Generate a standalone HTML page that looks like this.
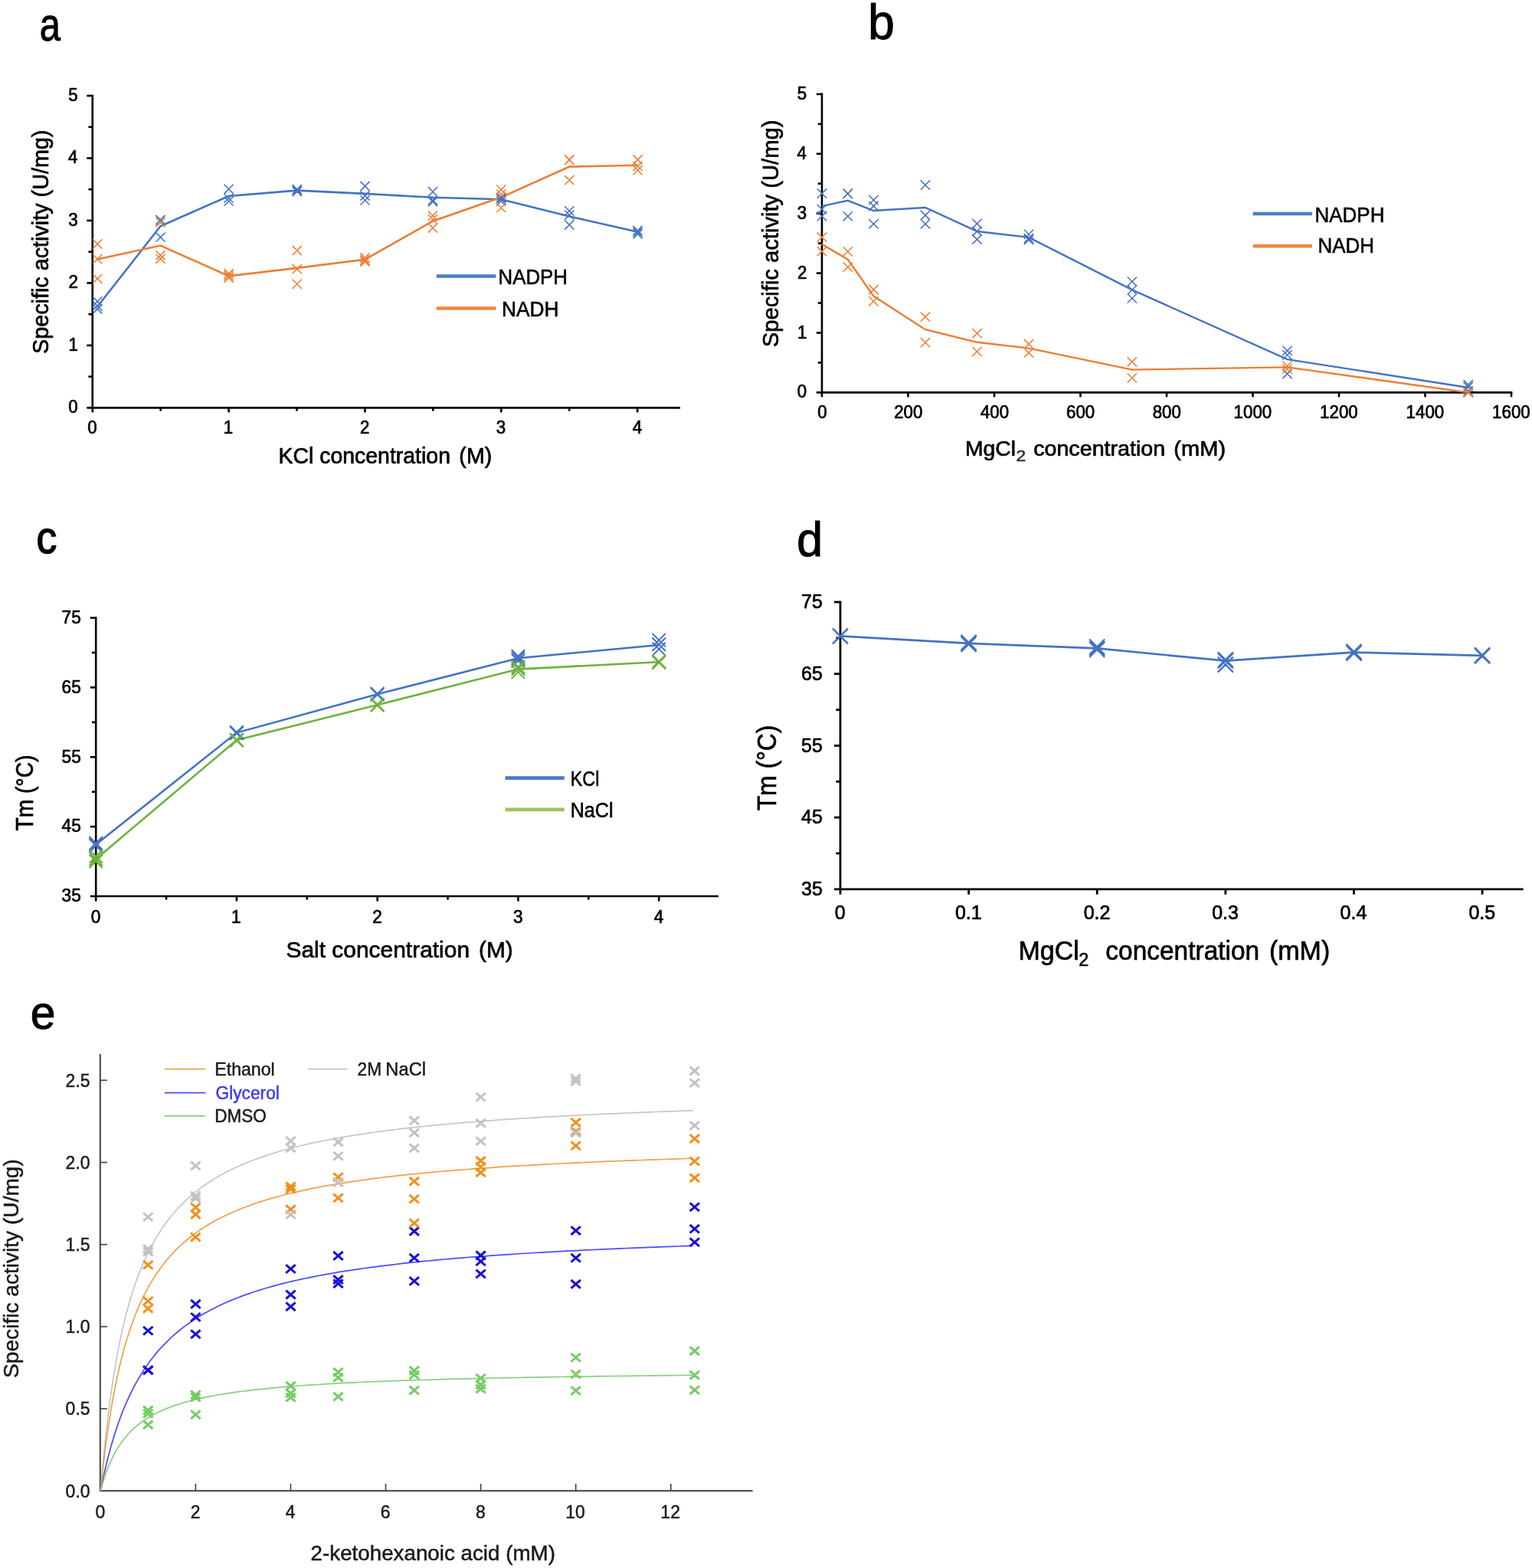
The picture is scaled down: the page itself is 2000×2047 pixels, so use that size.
<!DOCTYPE html>
<html lang="en"><head><meta charset="utf-8"><title>Figure</title>
<style>
html,body{margin:0;padding:0;background:#fff;}
body{width:2000px;height:2047px;overflow:hidden;}
svg{display:block;}
text{font-family:"Liberation Sans",Arial,Helvetica,sans-serif;white-space:pre;}
</style></head><body>
<svg width="2000" height="2047" viewBox="0 0 2000 2047">
<rect width="2000" height="2047" fill="#fff"/>
<g id="labels">
<text transform="translate(51.63 52.58) scale(0.7757 0.9663)" font-size="63" stroke="#000" stroke-width="1.1">a</text>
<text transform="translate(1133.37 50.85) scale(0.9869 1.0243)" font-size="63" stroke="#000" stroke-width="1.1">b</text>
<text transform="translate(47.6 722.41) scale(0.8489 0.944)" font-size="63" stroke="#000" stroke-width="1.6">c</text>
<text transform="translate(1040.37 725.54) scale(0.9659 1.0004)" font-size="63" stroke="#000" stroke-width="1.1">d</text>
<text transform="translate(39.64 1343.19) scale(0.9329 0.9607)" font-size="63" stroke="#000" stroke-width="1.1">e</text>
</g>
<g id="panelA">
<line x1="120.75" y1="123.7" x2="120.75" y2="533.7" stroke="#000" stroke-width="2.6"/>
<line x1="113.35" y1="532.4" x2="888" y2="532.4" stroke="#000" stroke-width="2.6"/>
<text transform="translate(89.18 539.1) scale(1 1.06)" font-size="22.3" stroke="#000" stroke-width="0.7">0</text>
<line x1="115.45" y1="491.66" x2="120.75" y2="491.66" stroke="#000" stroke-width="2.6"/>
<line x1="113.35" y1="450.92" x2="120.75" y2="450.92" stroke="#000" stroke-width="2.6"/>
<text transform="translate(89.4 457.62) scale(1 1.06)" font-size="22.3" stroke="#000" stroke-width="0.7">1</text>
<line x1="115.45" y1="410.18" x2="120.75" y2="410.18" stroke="#000" stroke-width="2.6"/>
<line x1="113.35" y1="369.44" x2="120.75" y2="369.44" stroke="#000" stroke-width="2.6"/>
<text transform="translate(89.4 376.14) scale(1 1.06)" font-size="22.3" stroke="#000" stroke-width="0.7">2</text>
<line x1="115.45" y1="328.7" x2="120.75" y2="328.7" stroke="#000" stroke-width="2.6"/>
<line x1="113.35" y1="287.96" x2="120.75" y2="287.96" stroke="#000" stroke-width="2.6"/>
<text transform="translate(89.18 294.66) scale(1 1.06)" font-size="22.3" stroke="#000" stroke-width="0.7">3</text>
<line x1="115.45" y1="247.22" x2="120.75" y2="247.22" stroke="#000" stroke-width="2.6"/>
<line x1="113.35" y1="206.48" x2="120.75" y2="206.48" stroke="#000" stroke-width="2.6"/>
<text transform="translate(88.96 213.18) scale(1 1.06)" font-size="22.3" stroke="#000" stroke-width="0.7">4</text>
<line x1="115.45" y1="165.74" x2="120.75" y2="165.74" stroke="#000" stroke-width="2.6"/>
<line x1="113.35" y1="125" x2="120.75" y2="125" stroke="#000" stroke-width="2.6"/>
<text transform="translate(89.18 131.7) scale(1 1.06)" font-size="22.3" stroke="#000" stroke-width="0.7">5</text>
<line x1="120.75" y1="532.4" x2="120.75" y2="538.4" stroke="#000" stroke-width="2.6"/>
<text transform="translate(114.32 566) scale(1 1.06)" font-size="22.3" stroke="#000" stroke-width="0.7">0</text>
<line x1="209.68" y1="532.4" x2="209.68" y2="536.6" stroke="#000" stroke-width="2.6"/>
<line x1="298.6" y1="532.4" x2="298.6" y2="538.4" stroke="#000" stroke-width="2.6"/>
<text transform="translate(291.83 566) scale(1 1.06)" font-size="22.3" stroke="#000" stroke-width="0.7">1</text>
<line x1="387.52" y1="532.4" x2="387.52" y2="536.6" stroke="#000" stroke-width="2.6"/>
<line x1="476.45" y1="532.4" x2="476.45" y2="538.4" stroke="#000" stroke-width="2.6"/>
<text transform="translate(470.02 566) scale(1 1.06)" font-size="22.3" stroke="#000" stroke-width="0.7">2</text>
<line x1="565.38" y1="532.4" x2="565.38" y2="536.6" stroke="#000" stroke-width="2.6"/>
<line x1="654.3" y1="532.4" x2="654.3" y2="538.4" stroke="#000" stroke-width="2.6"/>
<text transform="translate(647.87 566) scale(1 1.06)" font-size="22.3" stroke="#000" stroke-width="0.7">3</text>
<line x1="743.23" y1="532.4" x2="743.23" y2="536.6" stroke="#000" stroke-width="2.6"/>
<line x1="832.15" y1="532.4" x2="832.15" y2="538.4" stroke="#000" stroke-width="2.6"/>
<text transform="translate(825.72 566) scale(1 1.06)" font-size="22.3" stroke="#000" stroke-width="0.7">4</text>
<text transform="translate(363.41 604.7) scale(0.9817 1)" font-size="29" stroke="#000" stroke-width="0.7">KCl concentration</text>
<text transform="translate(599.37 604.7) scale(0.9852 1)" font-size="29" stroke="#000" stroke-width="0.7">(M)</text>
<text transform="translate(63.2 461.96) rotate(-90) scale(0.9918 1)" font-size="29" stroke="#000" stroke-width="0.7">Specific activity (U/mg)</text>
<polyline points="127.2,400.3 209.5,295.3 298.6,256 387.8,248.6 476.5,252.9 565,257.8 654.3,260.2 743.3,282.5 832.5,302.7" fill="none" stroke="#4472C4" stroke-width="2.6" stroke-linejoin="miter"/>
<polyline points="127.2,338.6 209.5,320.5 298.6,360.4 387.8,349.9 476.5,338.8 565,288.7 654.3,257.6 743.3,217.6 832.5,215.7" fill="none" stroke="#ED7D31" stroke-width="2.6" stroke-linejoin="miter"/>
<path d="M121.1 387.4L133.3 399.6M121.1 399.6L133.3 387.4M121.1 393.4L133.3 405.6M121.1 405.6L133.3 393.4M121.1 397.4L133.3 409.6M121.1 409.6L133.3 397.4M203.4 281.4L215.6 293.6M203.4 293.6L215.6 281.4M203.4 280.9L215.6 293.1M203.4 293.1L215.6 280.9M203.4 303.6L215.6 315.8M203.4 315.8L215.6 303.6M292.5 240.7L304.7 252.9M292.5 252.9L304.7 240.7M292.5 252.6L304.7 264.8M292.5 264.8L304.7 252.6M292.5 256.5L304.7 268.7M292.5 268.7L304.7 256.5M381.7 241.1L393.9 253.3M381.7 253.3L393.9 241.1M381.7 242.5L393.9 254.7M381.7 254.7L393.9 242.5M381.7 243.9L393.9 256.1M381.7 256.1L393.9 243.9M470.4 236.9L482.6 249.1M470.4 249.1L482.6 236.9M470.4 249.4L482.6 261.6M470.4 261.6L482.6 249.4M470.4 255.3L482.6 267.5M470.4 267.5L482.6 255.3M558.9 244.1L571.1 256.3M558.9 256.3L571.1 244.1M558.9 255.4L571.1 267.6M558.9 267.6L571.1 255.4M558.9 257.2L571.1 269.4M558.9 269.4L571.1 257.2M648.2 251.5L660.4 263.7M648.2 263.7L660.4 251.5M648.2 253.6L660.4 265.8M648.2 265.8L660.4 253.6M648.2 256.4L660.4 268.6M648.2 268.6L660.4 256.4M737.2 269.3L749.4 281.5M737.2 281.5L749.4 269.3M737.2 274.6L749.4 286.8M737.2 286.8L749.4 274.6M737.2 287.4L749.4 299.6M737.2 299.6L749.4 287.4M826.4 294.8L838.6 307M826.4 307L838.6 294.8M826.4 297.1L838.6 309.3M826.4 309.3L838.6 297.1M826.4 299.5L838.6 311.7M826.4 311.7L838.6 299.5" fill="none" stroke="#4472C4" stroke-width="1.5"/>
<path d="M121.1 312.4L133.3 324.6M121.1 324.6L133.3 312.4M121.1 332L133.3 344.2M121.1 344.2L133.3 332M121.1 357.7L133.3 369.9M121.1 369.9L133.3 357.7M203.4 284.2L215.6 296.4M203.4 296.4L215.6 284.2M203.4 327.2L215.6 339.4M203.4 339.4L215.6 327.2M203.4 331.7L215.6 343.9M203.4 343.9L215.6 331.7M292.5 351.1L304.7 363.3M292.5 363.3L304.7 351.1M292.5 353.8L304.7 366M292.5 366L304.7 353.8M292.5 356.4L304.7 368.6M292.5 368.6L304.7 356.4M381.7 320.9L393.9 333.1M381.7 333.1L393.9 320.9M381.7 345.1L393.9 357.3M381.7 357.3L393.9 345.1M381.7 364.8L393.9 377M381.7 377L393.9 364.8M470.4 330.4L482.6 342.6M470.4 342.6L482.6 330.4M470.4 333.3L482.6 345.5M470.4 345.5L482.6 333.3M470.4 335.4L482.6 347.6M470.4 347.6L482.6 335.4M558.9 275.6L571.1 287.8M558.9 287.8L571.1 275.6M558.9 280.3L571.1 292.5M558.9 292.5L571.1 280.3M558.9 291.4L571.1 303.6M558.9 303.6L571.1 291.4M648.2 241.5L660.4 253.7M648.2 253.7L660.4 241.5M648.2 247.5L660.4 259.7M648.2 259.7L660.4 247.5M648.2 265.1L660.4 277.3M648.2 277.3L660.4 265.1M737.2 202.4L749.4 214.6M737.2 214.6L749.4 202.4M737.2 202.8L749.4 215M737.2 215L749.4 202.8M737.2 229.1L749.4 241.3M737.2 241.3L749.4 229.1M826.4 202.4L838.6 214.6M826.4 214.6L838.6 202.4M826.4 210.8L838.6 223M826.4 223L838.6 210.8M826.4 216L838.6 228.2M826.4 228.2L838.6 216" fill="none" stroke="#ED7D31" stroke-width="1.5"/>
<line x1="569.8" y1="360.5" x2="647.4" y2="360.5" stroke="#4D7EC4" stroke-width="4.7"/>
<text transform="translate(650.59 371.3) scale(0.9064 1)" font-size="28.5" stroke="#000" stroke-width="0.6">NADPH</text>
<line x1="569.8" y1="402.5" x2="647.4" y2="402.5" stroke="#EE8640" stroke-width="4.7"/>
<text transform="translate(654.96 412.6) scale(0.9248 1)" font-size="28.5" stroke="#000" stroke-width="0.6">NADH</text>
</g>
<g id="panelB">
<line x1="1073" y1="121.6" x2="1073" y2="513.7" stroke="#000" stroke-width="2.6"/>
<line x1="1065.8" y1="512.4" x2="1974.3" y2="512.4" stroke="#000" stroke-width="2.6"/>
<text transform="translate(1040.78 519.4) scale(1 1.06)" font-size="22.3" stroke="#000" stroke-width="0.7">0</text>
<line x1="1067.8" y1="473.45" x2="1073" y2="473.45" stroke="#000" stroke-width="2.6"/>
<line x1="1065.8" y1="434.5" x2="1073" y2="434.5" stroke="#000" stroke-width="2.6"/>
<text transform="translate(1041 441.5) scale(1 1.06)" font-size="22.3" stroke="#000" stroke-width="0.7">1</text>
<line x1="1067.8" y1="395.55" x2="1073" y2="395.55" stroke="#000" stroke-width="2.6"/>
<line x1="1065.8" y1="356.6" x2="1073" y2="356.6" stroke="#000" stroke-width="2.6"/>
<text transform="translate(1041 363.6) scale(1 1.06)" font-size="22.3" stroke="#000" stroke-width="0.7">2</text>
<line x1="1067.8" y1="317.65" x2="1073" y2="317.65" stroke="#000" stroke-width="2.6"/>
<line x1="1065.8" y1="278.7" x2="1073" y2="278.7" stroke="#000" stroke-width="2.6"/>
<text transform="translate(1040.78 285.7) scale(1 1.06)" font-size="22.3" stroke="#000" stroke-width="0.7">3</text>
<line x1="1067.8" y1="239.75" x2="1073" y2="239.75" stroke="#000" stroke-width="2.6"/>
<line x1="1065.8" y1="200.8" x2="1073" y2="200.8" stroke="#000" stroke-width="2.6"/>
<text transform="translate(1040.56 207.8) scale(1 1.06)" font-size="22.3" stroke="#000" stroke-width="0.7">4</text>
<line x1="1067.8" y1="161.85" x2="1073" y2="161.85" stroke="#000" stroke-width="2.6"/>
<line x1="1065.8" y1="122.9" x2="1073" y2="122.9" stroke="#000" stroke-width="2.6"/>
<text transform="translate(1040.78 129.9) scale(1 1.06)" font-size="22.3" stroke="#000" stroke-width="0.7">5</text>
<line x1="1073" y1="512.4" x2="1073" y2="518.4" stroke="#000" stroke-width="2.6"/>
<text transform="translate(1067.17 546.4) scale(1 1.06)" font-size="22.3" stroke="#000" stroke-width="0.7">0</text>
<line x1="1185.5" y1="512.4" x2="1185.5" y2="518.4" stroke="#000" stroke-width="2.6"/>
<text transform="translate(1167.18 546.4) scale(1 1.06)" font-size="22.3" stroke="#000" stroke-width="0.7">200</text>
<line x1="1298" y1="512.4" x2="1298" y2="518.4" stroke="#000" stroke-width="2.6"/>
<text transform="translate(1279.9 546.4) scale(1 1.06)" font-size="22.3" stroke="#000" stroke-width="0.7">400</text>
<line x1="1410.5" y1="512.4" x2="1410.5" y2="518.4" stroke="#000" stroke-width="2.6"/>
<text transform="translate(1392.07 546.4) scale(1 1.06)" font-size="22.3" stroke="#000" stroke-width="0.7">600</text>
<line x1="1523" y1="512.4" x2="1523" y2="518.4" stroke="#000" stroke-width="2.6"/>
<text transform="translate(1504.68 546.4) scale(1 1.06)" font-size="22.3" stroke="#000" stroke-width="0.7">800</text>
<line x1="1635.5" y1="512.4" x2="1635.5" y2="518.4" stroke="#000" stroke-width="2.6"/>
<text transform="translate(1610.6 546.4) scale(1 1.06)" font-size="22.3" stroke="#000" stroke-width="0.7">1000</text>
<line x1="1748" y1="512.4" x2="1748" y2="518.4" stroke="#000" stroke-width="2.6"/>
<text transform="translate(1723.1 546.4) scale(1 1.06)" font-size="22.3" stroke="#000" stroke-width="0.7">1200</text>
<line x1="1860.5" y1="512.4" x2="1860.5" y2="518.4" stroke="#000" stroke-width="2.6"/>
<text transform="translate(1835.6 546.4) scale(1 1.06)" font-size="22.3" stroke="#000" stroke-width="0.7">1400</text>
<line x1="1973" y1="512.4" x2="1973" y2="518.4" stroke="#000" stroke-width="2.6"/>
<text transform="translate(1948.1 546.4) scale(1 1.06)" font-size="22.3" stroke="#000" stroke-width="0.7">1600</text>
<text transform="translate(1259.92 594.8) scale(1.0116 1)" font-size="28" stroke="#000" stroke-width="0.7">MgCl</text>
<text transform="translate(1326.38 601.8) scale(1.1752 1)" font-size="19.5" fill="#2a2a2a" stroke="#2a2a2a" stroke-width="0.5">2</text>
<text transform="translate(1349.14 594.8) scale(1.0244 1)" font-size="28" stroke="#000" stroke-width="0.7">concentration</text>
<text transform="translate(1532.35 594.8) scale(1.0378 1)" font-size="28" stroke="#000" stroke-width="0.7">(mM)</text>
<text transform="translate(1015.7 453.18) rotate(-90) scale(0.9729 1)" font-size="30" stroke="#000" stroke-width="0.7">Specific activity (U/mg)</text>
<polyline points="1073,269.2 1106.8,261.8 1140.5,275 1208,271 1275.5,302 1343,309.9 1478,378.4 1680.5,469.1 1916.8,506" fill="none" stroke="#4472C4" stroke-width="2.4" stroke-linejoin="miter"/>
<polyline points="1073,318.9 1106.8,338.7 1140.5,386.6 1208,430.2 1275.5,446.8 1343,454.6 1478,482.6 1680.5,479.4 1916.8,512.4" fill="none" stroke="#ED7D31" stroke-width="2.4" stroke-linejoin="miter"/>
<path d="M1066.8 246.4L1079.2 258.8M1066.8 258.8L1079.2 246.4M1066.8 267L1079.2 279.2M1066.8 279.2L1079.2 267M1066.8 276.2L1079.2 288.4M1066.8 288.4L1079.2 276.2M1100.6 246.4L1112.9 258.8M1100.6 258.8L1112.9 246.4M1100.6 246.8L1112.9 259.1M1100.6 259.1L1112.9 246.8M1100.6 276.2L1112.9 288.4M1100.6 288.4L1112.9 276.2M1134.3 255L1146.7 267.3M1134.3 267.3L1146.7 255M1134.3 262.9L1146.7 275.1M1134.3 275.1L1146.7 262.9M1134.3 286.2L1146.7 298.4M1134.3 298.4L1146.7 286.2M1201.8 235.4L1214.2 247.8M1201.8 247.8L1214.2 235.4M1201.8 274.9L1214.2 287.1M1201.8 287.1L1214.2 274.9M1201.8 286.2L1214.2 298.4M1201.8 298.4L1214.2 286.2M1269.3 285.9L1281.7 298.1M1269.3 298.1L1281.7 285.9M1269.3 295.9L1281.7 308.1M1269.3 308.1L1281.7 295.9M1269.3 306.4L1281.7 318.6M1269.3 318.6L1281.7 306.4M1336.8 299.8L1349.2 312M1336.8 312L1349.2 299.8M1336.8 305.1L1349.2 317.3M1336.8 317.3L1349.2 305.1M1336.8 306.9L1349.2 319.1M1336.8 319.1L1349.2 306.9M1471.8 361.5L1484.2 373.8M1471.8 373.8L1484.2 361.5M1471.8 372.2L1484.2 384.5M1471.8 384.5L1484.2 372.2M1471.8 383.2L1484.2 395.5M1471.8 395.5L1484.2 383.2M1674.3 451.7L1686.7 463.9M1674.3 463.9L1686.7 451.7M1674.3 457.2L1686.7 469.5M1674.3 469.5L1686.7 457.2M1674.3 481.9L1686.7 494.1M1674.3 494.1L1686.7 481.9M1910.6 496.1L1922.9 508.3M1910.6 508.3L1922.9 496.1M1910.6 498.9L1922.9 511.1M1910.6 511.1L1922.9 498.9M1910.6 504.4L1922.9 516.6M1910.6 516.6L1922.9 504.4" fill="none" stroke="#4472C4" stroke-width="1.5"/>
<path d="M1066.8 303.6L1079.2 315.8M1066.8 315.8L1079.2 303.6M1066.8 322.1L1079.2 334.3M1066.8 334.3L1079.2 322.1M1100.6 322.2L1112.9 334.5M1100.6 334.5L1112.9 322.2M1100.6 342.5L1112.9 354.8M1100.6 354.8L1112.9 342.5M1134.3 371.9L1146.7 384.1M1134.3 384.1L1146.7 371.9M1134.3 387.2L1146.7 399.5M1134.3 399.5L1146.7 387.2M1201.8 407.6L1214.2 419.8M1201.8 419.8L1214.2 407.6M1201.8 441L1214.2 453.2M1201.8 453.2L1214.2 441M1269.3 429.1L1281.7 441.3M1269.3 441.3L1281.7 429.1M1269.3 452.8L1281.7 465M1269.3 465L1281.7 452.8M1336.8 443.1L1349.2 455.3M1336.8 455.3L1349.2 443.1M1336.8 454.6L1349.2 466.8M1336.8 466.8L1349.2 454.6M1471.8 466.2L1484.2 478.4M1471.8 478.4L1484.2 466.2M1471.8 487.2L1484.2 499.5M1471.8 499.5L1484.2 487.2M1674.3 471.5L1686.7 483.8M1674.3 483.8L1686.7 471.5M1674.3 475.6L1686.7 487.8M1674.3 487.8L1686.7 475.6M1910.6 505.7L1922.9 518M1910.6 518L1922.9 505.7M1910.6 506.5L1922.9 518.8M1910.6 518.8L1922.9 506.5" fill="none" stroke="#ED7D31" stroke-width="1.5"/>
<line x1="1635.7" y1="279" x2="1713" y2="279" stroke="#4D7EC4" stroke-width="4.6"/>
<text transform="translate(1716.48 289.5) scale(0.9181 1)" font-size="28.3" stroke="#000" stroke-width="0.6">NADPH</text>
<line x1="1635.7" y1="321.2" x2="1713" y2="321.2" stroke="#EE8640" stroke-width="4.6"/>
<text transform="translate(1720.38 330.4) scale(0.9182 1)" font-size="28.3" stroke="#000" stroke-width="0.6">NADH</text>
</g>
<g id="panelC">
<line x1="125.2" y1="805.3" x2="125.2" y2="1171.3" stroke="#000" stroke-width="2.6"/>
<line x1="117.8" y1="1170" x2="938" y2="1170" stroke="#000" stroke-width="2.6"/>
<text transform="translate(80.59 1177.2) scale(1 1.06)" font-size="22.6" stroke="#000" stroke-width="0.7">35</text>
<line x1="119.9" y1="1124.58" x2="125.2" y2="1124.58" stroke="#000" stroke-width="2.6"/>
<line x1="117.8" y1="1079.15" x2="125.2" y2="1079.15" stroke="#000" stroke-width="2.6"/>
<text transform="translate(80.59 1086.35) scale(1 1.06)" font-size="22.6" stroke="#000" stroke-width="0.7">45</text>
<line x1="119.9" y1="1033.72" x2="125.2" y2="1033.72" stroke="#000" stroke-width="2.6"/>
<line x1="117.8" y1="988.3" x2="125.2" y2="988.3" stroke="#000" stroke-width="2.6"/>
<text transform="translate(80.59 995.5) scale(1 1.06)" font-size="22.6" stroke="#000" stroke-width="0.7">55</text>
<line x1="119.9" y1="942.88" x2="125.2" y2="942.88" stroke="#000" stroke-width="2.6"/>
<line x1="117.8" y1="897.45" x2="125.2" y2="897.45" stroke="#000" stroke-width="2.6"/>
<text transform="translate(80.59 904.65) scale(1 1.06)" font-size="22.6" stroke="#000" stroke-width="0.7">65</text>
<line x1="119.9" y1="852.02" x2="125.2" y2="852.02" stroke="#000" stroke-width="2.6"/>
<line x1="117.8" y1="806.6" x2="125.2" y2="806.6" stroke="#000" stroke-width="2.6"/>
<text transform="translate(80.59 813.8) scale(1 1.06)" font-size="22.6" stroke="#000" stroke-width="0.7">75</text>
<line x1="125.2" y1="1170" x2="125.2" y2="1176.6" stroke="#000" stroke-width="2.6"/>
<text transform="translate(118.69 1204.7) scale(1 1.04)" font-size="22.6" stroke="#000" stroke-width="0.7">0</text>
<line x1="217.07" y1="1170" x2="217.07" y2="1174.6" stroke="#000" stroke-width="2.6"/>
<line x1="308.95" y1="1170" x2="308.95" y2="1176.6" stroke="#000" stroke-width="2.6"/>
<text transform="translate(302.1 1204.7) scale(1 1.04)" font-size="22.6" stroke="#000" stroke-width="0.7">1</text>
<line x1="400.82" y1="1170" x2="400.82" y2="1174.6" stroke="#000" stroke-width="2.6"/>
<line x1="492.7" y1="1170" x2="492.7" y2="1176.6" stroke="#000" stroke-width="2.6"/>
<text transform="translate(486.19 1204.7) scale(1 1.04)" font-size="22.6" stroke="#000" stroke-width="0.7">2</text>
<line x1="584.58" y1="1170" x2="584.58" y2="1174.6" stroke="#000" stroke-width="2.6"/>
<line x1="676.45" y1="1170" x2="676.45" y2="1176.6" stroke="#000" stroke-width="2.6"/>
<text transform="translate(669.94 1204.7) scale(1 1.04)" font-size="22.6" stroke="#000" stroke-width="0.7">3</text>
<line x1="768.33" y1="1170" x2="768.33" y2="1174.6" stroke="#000" stroke-width="2.6"/>
<line x1="860.2" y1="1170" x2="860.2" y2="1176.6" stroke="#000" stroke-width="2.6"/>
<text transform="translate(853.69 1204.7) scale(1 1.04)" font-size="22.6" stroke="#000" stroke-width="0.7">4</text>
<text transform="translate(373.5 1250.3) scale(0.9979 1)" font-size="30" stroke="#000" stroke-width="0.7">Salt concentration</text>
<text transform="translate(625.01 1250.3) scale(0.9952 1)" font-size="30" stroke="#000" stroke-width="0.7">(M)</text>
<text transform="translate(43.3 1084.58) rotate(-90) scale(0.9098 1)" font-size="31" stroke="#000" stroke-width="0.7">Tm (°C)</text>
<polyline points="125.2,1102.4 308.9,956.6 492.7,906.2 676.5,859.2 860.2,842" fill="none" stroke="#4472C4" stroke-width="2.6" stroke-linejoin="miter"/>
<polyline points="125.2,1121.6 308.9,966.2 492.7,920.3 676.5,873.6 860.2,864.2" fill="none" stroke="#6EB23E" stroke-width="2.6" stroke-linejoin="miter"/>
<path d="M116.5 1092L133.9 1109.5M116.5 1109.5L133.9 1092M116.5 1093.7L133.9 1111.2M116.5 1111.2L133.9 1093.7M116.5 1095.2L133.9 1112.8M116.5 1112.8L133.9 1095.2M300.2 947.2L317.7 964.8M300.2 964.8L317.7 947.2M300.2 947.9L317.7 965.4M300.2 965.4L317.7 947.9M300.2 948.5L317.7 966M300.2 966L317.7 948.5M483.9 896.9L501.4 914.4M483.9 914.4L501.4 896.9M483.9 897.5L501.4 915M483.9 915L501.4 897.5M483.9 898L501.4 915.5M483.9 915.5L501.4 898M667.7 847.9L685.2 865.4M667.7 865.4L685.2 847.9M667.7 850.8L685.2 868.2M667.7 868.2L685.2 850.8M667.7 853.9L685.2 871.4M667.7 871.4L685.2 853.9M851.5 826.9L869 844.4M851.5 844.4L869 826.9M851.5 832.5L869 850M851.5 850L869 832.5M851.5 838.6L869 856.1M851.5 856.1L869 838.6" fill="none" stroke="#4472C4" stroke-width="2.0"/>
<path d="M116.5 1109.2L133.9 1126.8M116.5 1126.8L133.9 1109.2M116.5 1112.8L133.9 1130.3M116.5 1130.3L133.9 1112.8M116.5 1115.8L133.9 1133.2M116.5 1133.2L133.9 1115.8M300.2 956.9L317.7 974.4M300.2 974.4L317.7 956.9M300.2 957.5L317.7 975M300.2 975L317.7 957.5M300.2 958L317.7 975.5M300.2 975.5L317.7 958M483.9 911L501.4 928.5M483.9 928.5L501.4 911M483.9 911.5L501.4 929M483.9 929L501.4 911.5M483.9 912.1L501.4 929.6M483.9 929.6L501.4 912.1M667.7 862L685.2 879.5M667.7 879.5L685.2 862M667.7 864.6L685.2 882.1M667.7 882.1L685.2 864.6M667.7 868.6L685.2 886.1M667.7 886.1L685.2 868.6M851.5 854.6L869 872.1M851.5 872.1L869 854.6M851.5 855.5L869 873M851.5 873L869 855.5M851.5 856.2L869 873.8M851.5 873.8L869 856.2" fill="none" stroke="#6EB23E" stroke-width="2.0"/>
<line x1="659.6" y1="1015.7" x2="736.8" y2="1015.7" stroke="#4D7EC4" stroke-width="4.7"/>
<text transform="translate(744.77 1026.2) scale(0.8195 1)" font-size="28.5" stroke="#000" stroke-width="0.6">KCl</text>
<line x1="659.6" y1="1056.9" x2="736.8" y2="1056.9" stroke="#9BC45A" stroke-width="4.7"/>
<text transform="translate(744.64 1067.4) scale(0.8822 1)" font-size="28.5" stroke="#000" stroke-width="0.6">NaCl</text>
</g>
<g id="panelD">
<line x1="1097" y1="784.6" x2="1097" y2="1162.3" stroke="#000" stroke-width="2.8"/>
<line x1="1089" y1="1160.9" x2="1988.7" y2="1160.9" stroke="#000" stroke-width="2.8"/>
<text transform="translate(1046 1169.2) scale(1 1.05)" font-size="25" stroke="#000" stroke-width="0.7">35</text>
<line x1="1091.4" y1="1114.04" x2="1097" y2="1114.04" stroke="#000" stroke-width="2.8"/>
<line x1="1089" y1="1067.18" x2="1097" y2="1067.18" stroke="#000" stroke-width="2.8"/>
<text transform="translate(1046 1075.48) scale(1 1.05)" font-size="25" stroke="#000" stroke-width="0.7">45</text>
<line x1="1091.4" y1="1020.31" x2="1097" y2="1020.31" stroke="#000" stroke-width="2.8"/>
<line x1="1089" y1="973.45" x2="1097" y2="973.45" stroke="#000" stroke-width="2.8"/>
<text transform="translate(1046 981.75) scale(1 1.05)" font-size="25" stroke="#000" stroke-width="0.7">55</text>
<line x1="1091.4" y1="926.59" x2="1097" y2="926.59" stroke="#000" stroke-width="2.8"/>
<line x1="1089" y1="879.73" x2="1097" y2="879.73" stroke="#000" stroke-width="2.8"/>
<text transform="translate(1046 888.02) scale(1 1.05)" font-size="25" stroke="#000" stroke-width="0.7">65</text>
<line x1="1091.4" y1="832.86" x2="1097" y2="832.86" stroke="#000" stroke-width="2.8"/>
<line x1="1089" y1="786" x2="1097" y2="786" stroke="#000" stroke-width="2.8"/>
<text transform="translate(1046 794.3) scale(1 1.05)" font-size="25" stroke="#000" stroke-width="0.7">75</text>
<line x1="1097" y1="1160.9" x2="1097" y2="1167.7" stroke="#000" stroke-width="2.8"/>
<text transform="translate(1089.7 1199.8) scale(1 1.05)" font-size="25" stroke="#000" stroke-width="0.7">0</text>
<line x1="1264.62" y1="1160.9" x2="1264.62" y2="1167.7" stroke="#000" stroke-width="2.8"/>
<text transform="translate(1246.94 1199.8) scale(1 1.05)" font-size="25" stroke="#000" stroke-width="0.7">0.1</text>
<line x1="1432.24" y1="1160.9" x2="1432.24" y2="1167.7" stroke="#000" stroke-width="2.8"/>
<text transform="translate(1414.69 1199.8) scale(1 1.05)" font-size="25" stroke="#000" stroke-width="0.7">0.2</text>
<line x1="1599.86" y1="1160.9" x2="1599.86" y2="1167.7" stroke="#000" stroke-width="2.8"/>
<text transform="translate(1582.19 1199.8) scale(1 1.05)" font-size="25" stroke="#000" stroke-width="0.7">0.3</text>
<line x1="1767.48" y1="1160.9" x2="1767.48" y2="1167.7" stroke="#000" stroke-width="2.8"/>
<text transform="translate(1749.56 1199.8) scale(1 1.05)" font-size="25" stroke="#000" stroke-width="0.7">0.4</text>
<line x1="1935.1" y1="1160.9" x2="1935.1" y2="1167.7" stroke="#000" stroke-width="2.8"/>
<text transform="translate(1917.42 1199.8) scale(1 1.05)" font-size="25" stroke="#000" stroke-width="0.7">0.5</text>
<text transform="translate(1329.42 1253.3) scale(0.9722 1)" font-size="35" stroke="#000" stroke-width="0.7">MgCl</text>
<text transform="translate(1408.26 1261.3) scale(1.0236 1)" font-size="23" stroke="#000" stroke-width="0.6">2</text>
<text transform="translate(1443.3 1253.3) scale(0.9561 1)" font-size="35" stroke="#000" stroke-width="0.7">concentration</text>
<text transform="translate(1656.9 1253.3) scale(0.9725 1)" font-size="35" stroke="#000" stroke-width="0.7">(mM)</text>
<text transform="translate(1013 1058.32) rotate(-90) scale(0.8965 1)" font-size="35.5" stroke="#000" stroke-width="0.7">Tm (°C)</text>
<polyline points="1097,830.4 1264.6,839.9 1432.2,846.4 1599.9,862.7 1767.5,851.7 1935.1,855.8" fill="none" stroke="#4472C4" stroke-width="2.7" stroke-linejoin="miter"/>
<path d="M1087 820.2L1107 840.2M1087 840.2L1107 820.2M1087 820.4L1107 840.4M1087 840.4L1107 820.4M1087 820.6L1107 840.6M1087 840.6L1107 820.6M1254.6 828.8L1274.6 848.8M1254.6 848.8L1274.6 828.8M1254.6 829.9L1274.6 849.9M1254.6 849.9L1274.6 829.9M1254.6 831L1274.6 851M1254.6 851L1274.6 831M1422.2 834.5L1442.2 854.5M1422.2 854.5L1442.2 834.5M1422.2 836.4L1442.2 856.4M1422.2 856.4L1442.2 836.4M1422.2 838L1442.2 858M1422.2 858L1442.2 838M1589.9 851.3L1609.9 871.3M1589.9 871.3L1609.9 851.3M1589.9 852.7L1609.9 872.7M1589.9 872.7L1609.9 852.7M1589.9 857.6L1609.9 877.6M1589.9 877.6L1609.9 857.6M1757.5 840.8L1777.5 860.8M1757.5 860.8L1777.5 840.8M1757.5 841.7L1777.5 861.7M1757.5 861.7L1777.5 841.7M1757.5 842.6L1777.5 862.6M1757.5 862.6L1777.5 842.6M1925.1 845.2L1945.1 865.2M1925.1 865.2L1945.1 845.2M1925.1 845.8L1945.1 865.8M1925.1 865.8L1945.1 845.8M1925.1 846.4L1945.1 866.4M1925.1 866.4L1945.1 846.4" fill="none" stroke="#4472C4" stroke-width="2.2"/>
</g>
<g id="panelE">
<line x1="130.8" y1="1376.1" x2="130.8" y2="1947.3" stroke="#404040" stroke-width="2.0"/>
<line x1="129.8" y1="1946.3" x2="982.7" y2="1946.3" stroke="#404040" stroke-width="2.0"/>
<text transform="translate(85.62 1954.6) scale(1 1.05)" font-size="23" fill="#1a1a1a" stroke="#1a1a1a" stroke-width="0.45">0.0</text>
<line x1="130.8" y1="1839.1" x2="139.9" y2="1839.1" stroke="#404040" stroke-width="1.6"/>
<text transform="translate(85.62 1847.4) scale(1 1.05)" font-size="23" fill="#1a1a1a" stroke="#1a1a1a" stroke-width="0.45">0.5</text>
<line x1="130.8" y1="1731.9" x2="139.9" y2="1731.9" stroke="#404040" stroke-width="1.6"/>
<text transform="translate(85.62 1740.2) scale(1 1.05)" font-size="23" fill="#1a1a1a" stroke="#1a1a1a" stroke-width="0.45">1.0</text>
<line x1="130.8" y1="1624.7" x2="139.9" y2="1624.7" stroke="#404040" stroke-width="1.6"/>
<text transform="translate(85.62 1633) scale(1 1.05)" font-size="23" fill="#1a1a1a" stroke="#1a1a1a" stroke-width="0.45">1.5</text>
<line x1="130.8" y1="1517.5" x2="139.9" y2="1517.5" stroke="#404040" stroke-width="1.6"/>
<text transform="translate(85.62 1525.8) scale(1 1.05)" font-size="23" fill="#1a1a1a" stroke="#1a1a1a" stroke-width="0.45">2.0</text>
<line x1="130.8" y1="1410.3" x2="139.9" y2="1410.3" stroke="#404040" stroke-width="1.6"/>
<text transform="translate(85.62 1418.6) scale(1 1.05)" font-size="23" fill="#1a1a1a" stroke="#1a1a1a" stroke-width="0.45">2.5</text>
<text transform="translate(124.56 1982.4) scale(1 1.05)" font-size="23" fill="#1a1a1a" stroke="#1a1a1a" stroke-width="0.45">0</text>
<line x1="255.38" y1="1946.3" x2="255.38" y2="1937" stroke="#404040" stroke-width="1.6"/>
<text transform="translate(248.64 1982.4) scale(1 1.05)" font-size="23" fill="#1a1a1a" stroke="#1a1a1a" stroke-width="0.45">2</text>
<line x1="379.46" y1="1946.3" x2="379.46" y2="1937" stroke="#404040" stroke-width="1.6"/>
<text transform="translate(372.84 1982.4) scale(1 1.05)" font-size="23" fill="#1a1a1a" stroke="#1a1a1a" stroke-width="0.45">4</text>
<line x1="503.54" y1="1946.3" x2="503.54" y2="1937" stroke="#404040" stroke-width="1.6"/>
<text transform="translate(496.8 1982.4) scale(1 1.05)" font-size="23" fill="#1a1a1a" stroke="#1a1a1a" stroke-width="0.45">6</text>
<line x1="627.62" y1="1946.3" x2="627.62" y2="1937" stroke="#404040" stroke-width="1.6"/>
<text transform="translate(621 1982.4) scale(1 1.05)" font-size="23" fill="#1a1a1a" stroke="#1a1a1a" stroke-width="0.45">8</text>
<line x1="751.7" y1="1946.3" x2="751.7" y2="1937" stroke="#404040" stroke-width="1.6"/>
<text transform="translate(738.18 1982.4) scale(1 1.05)" font-size="23" fill="#1a1a1a" stroke="#1a1a1a" stroke-width="0.45">10</text>
<line x1="875.78" y1="1946.3" x2="875.78" y2="1937" stroke="#404040" stroke-width="1.6"/>
<text transform="translate(862.37 1982.4) scale(1 1.05)" font-size="23" fill="#1a1a1a" stroke="#1a1a1a" stroke-width="0.45">12</text>
<text transform="translate(405.59 2036.9) scale(1.0096 1)" font-size="27.5" fill="#1a1a1a" stroke="#1a1a1a" stroke-width="0.5">2-ketohexanoic acid (mM)</text>
<text transform="translate(24.3 1798.92) rotate(-90) scale(1.0223 1)" font-size="27.5" fill="#1a1a1a" stroke="#1a1a1a" stroke-width="0.5">Specific activity (U/mg)</text>
<polyline points="131.3,1946.3 131.3,1945.9 131.4,1944.8 131.6,1943 131.8,1940.4 132.1,1937.2 132.4,1933.2 132.8,1928.7 133.2,1923.5 133.7,1917.8 134.3,1911.5 135,1904.8 135.6,1897.7 136.4,1890.1 137.2,1882.2 138.1,1874.1 139,1865.7 140,1857 141.1,1848.2 142.2,1839.3 143.4,1830.3 144.6,1821.3 145.9,1812.2 147.3,1803.2 148.7,1794.1 150.2,1785.2 151.7,1776.3 153.3,1767.5 155,1758.9 156.7,1750.3 158.5,1741.9 160.3,1733.7 162.2,1725.6 164.2,1717.8 166.2,1710 168.3,1702.5 170.4,1695.1 172.6,1688 174.9,1681 177.2,1674.2 179.6,1667.6 182.1,1661.2 184.6,1654.9 187.1,1648.8 189.8,1643 192.4,1637.2 195.2,1631.7 198,1626.3 200.9,1621.1 203.8,1616 206.8,1611.1 209.8,1606.4 213,1601.8 216.1,1597.3 219.4,1593 222.6,1588.8 226,1584.7 229.4,1580.8 232.9,1577 236.4,1573.3 240,1569.7 243.7,1566.2 247.4,1562.9 251.1,1559.6 255,1556.4 258.9,1553.4 262.8,1550.4 266.8,1547.5 270.9,1544.7 275.1,1542 279.3,1539.4 283.5,1536.8 287.8,1534.3 292.2,1531.9 296.7,1529.6 301.2,1527.3 305.7,1525.1 310.3,1523 315,1520.9 319.8,1518.9 324.6,1516.9 329.4,1515 334.3,1513.2 339.3,1511.4 344.4,1509.6 349.5,1507.9 354.6,1506.3 359.9,1504.6 365.1,1503.1 370.5,1501.5 375.9,1500.1 381.4,1498.6 386.9,1497.2 392.5,1495.8 398.1,1494.5 403.8,1493.2 409.6,1491.9 415.4,1490.7 421.3,1489.5 427.3,1488.3 433.3,1487.1 439.3,1486 445.5,1484.9 451.6,1483.9 457.9,1482.8 464.2,1481.8 470.6,1480.8 477,1479.9 483.5,1478.9 490.1,1478 496.7,1477.1 503.3,1476.2 510.1,1475.4 516.9,1474.5 523.7,1473.7 530.6,1472.9 537.6,1472.1 544.7,1471.4 551.7,1470.6 558.9,1469.9 566.1,1469.2 573.4,1468.5 580.7,1467.8 588.1,1467.1 595.6,1466.5 603.1,1465.8 610.7,1465.2 618.3,1464.6 626,1464 633.8,1463.4 641.6,1462.8 649.5,1462.2 657.4,1461.7 665.4,1461.1 673.5,1460.6 681.6,1460.1 689.8,1459.6 698,1459.1 706.4,1458.6 714.7,1458.1 723.1,1457.6 731.6,1457.2 740.2,1456.7 748.8,1456.3 757.4,1455.8 766.2,1455.4 775,1455 783.8,1454.6 792.7,1454.2 801.7,1453.8 810.7,1453.4 819.8,1453 828.9,1452.6 838.2,1452.2 847.4,1451.9 856.8,1451.5 866.2,1451.2 875.6,1450.8 885.1,1450.5 894.7,1450.2 904.3,1449.8" fill="none" stroke="#C6C6C6" stroke-width="1.7" stroke-linejoin="round"/>
<polyline points="131.3,1946.3 131.3,1946 131.4,1945.1 131.6,1943.6 131.8,1941.5 132.1,1938.8 132.4,1935.6 132.8,1931.8 133.2,1927.5 133.7,1922.8 134.3,1917.6 135,1912.1 135.6,1906.1 136.4,1899.9 137.2,1893.3 138.1,1886.5 139,1879.4 140,1872.2 141.1,1864.8 142.2,1857.3 143.4,1849.7 144.6,1842.1 145.9,1834.4 147.3,1826.7 148.7,1819 150.2,1811.4 151.7,1803.8 153.3,1796.3 155,1788.8 156.7,1781.5 158.5,1774.2 160.3,1767.1 162.2,1760.1 164.2,1753.3 166.2,1746.6 168.3,1740 170.4,1733.6 172.6,1727.3 174.9,1721.2 177.2,1715.2 179.6,1709.4 182.1,1703.7 184.6,1698.2 187.1,1692.9 189.8,1687.6 192.4,1682.6 195.2,1677.7 198,1672.9 200.9,1668.2 203.8,1663.7 206.8,1659.3 209.8,1655.1 213,1651 216.1,1647 219.4,1643.1 222.6,1639.3 226,1635.7 229.4,1632.1 232.9,1628.7 236.4,1625.4 240,1622.1 243.7,1619 247.4,1616 251.1,1613 255,1610.1 258.9,1607.4 262.8,1604.7 266.8,1602 270.9,1599.5 275.1,1597 279.3,1594.6 283.5,1592.3 287.8,1590.1 292.2,1587.9 296.7,1585.7 301.2,1583.7 305.7,1581.7 310.3,1579.7 315,1577.8 319.8,1576 324.6,1574.2 329.4,1572.4 334.3,1570.7 339.3,1569.1 344.4,1567.5 349.5,1565.9 354.6,1564.4 359.9,1562.9 365.1,1561.5 370.5,1560 375.9,1558.7 381.4,1557.4 386.9,1556.1 392.5,1554.8 398.1,1553.6 403.8,1552.4 409.6,1551.2 415.4,1550 421.3,1548.9 427.3,1547.9 433.3,1546.8 439.3,1545.8 445.5,1544.8 451.6,1543.8 457.9,1542.8 464.2,1541.9 470.6,1541 477,1540.1 483.5,1539.2 490.1,1538.4 496.7,1537.5 503.3,1536.7 510.1,1535.9 516.9,1535.1 523.7,1534.4 530.6,1533.6 537.6,1532.9 544.7,1532.2 551.7,1531.5 558.9,1530.8 566.1,1530.2 573.4,1529.5 580.7,1528.9 588.1,1528.3 595.6,1527.7 603.1,1527.1 610.7,1526.5 618.3,1525.9 626,1525.4 633.8,1524.8 641.6,1524.3 649.5,1523.7 657.4,1523.2 665.4,1522.7 673.5,1522.2 681.6,1521.7 689.8,1521.3 698,1520.8 706.4,1520.4 714.7,1519.9 723.1,1519.5 731.6,1519 740.2,1518.6 748.8,1518.2 757.4,1517.8 766.2,1517.4 775,1517 783.8,1516.6 792.7,1516.2 801.7,1515.9 810.7,1515.5 819.8,1515.2 828.9,1514.8 838.2,1514.5 847.4,1514.1 856.8,1513.8 866.2,1513.5 875.6,1513.1 885.1,1512.8 894.7,1512.5 904.3,1512.2" fill="none" stroke="#F0A04A" stroke-width="1.7" stroke-linejoin="round"/>
<polyline points="131.3,1946.3 131.3,1946.1 131.4,1945.7 131.6,1944.9 131.8,1943.8 132.1,1942.5 132.4,1940.8 132.8,1938.9 133.2,1936.7 133.7,1934.2 134.3,1931.5 135,1928.6 135.6,1925.4 136.4,1922 137.2,1918.5 138.1,1914.7 139,1910.8 140,1906.8 141.1,1902.6 142.2,1898.3 143.4,1893.9 144.6,1889.4 145.9,1884.8 147.3,1880.2 148.7,1875.5 150.2,1870.8 151.7,1866.1 153.3,1861.3 155,1856.5 156.7,1851.8 158.5,1847.1 160.3,1842.3 162.2,1837.6 164.2,1833 166.2,1828.4 168.3,1823.8 170.4,1819.3 172.6,1814.9 174.9,1810.5 177.2,1806.1 179.6,1801.9 182.1,1797.7 184.6,1793.6 187.1,1789.5 189.8,1785.6 192.4,1781.7 195.2,1777.8 198,1774.1 200.9,1770.4 203.8,1766.9 206.8,1763.3 209.8,1759.9 213,1756.6 216.1,1753.3 219.4,1750.1 222.6,1746.9 226,1743.9 229.4,1740.9 232.9,1738 236.4,1735.1 240,1732.3 243.7,1729.6 247.4,1727 251.1,1724.4 255,1721.9 258.9,1719.4 262.8,1717 266.8,1714.6 270.9,1712.4 275.1,1710.1 279.3,1708 283.5,1705.8 287.8,1703.8 292.2,1701.8 296.7,1699.8 301.2,1697.9 305.7,1696 310.3,1694.2 315,1692.4 319.8,1690.6 324.6,1688.9 329.4,1687.3 334.3,1685.7 339.3,1684.1 344.4,1682.5 349.5,1681 354.6,1679.6 359.9,1678.1 365.1,1676.7 370.5,1675.4 375.9,1674 381.4,1672.7 386.9,1671.5 392.5,1670.2 398.1,1669 403.8,1667.8 409.6,1666.7 415.4,1665.5 421.3,1664.4 427.3,1663.3 433.3,1662.3 439.3,1661.2 445.5,1660.2 451.6,1659.2 457.9,1658.3 464.2,1657.3 470.6,1656.4 477,1655.5 483.5,1654.6 490.1,1653.8 496.7,1652.9 503.3,1652.1 510.1,1651.3 516.9,1650.5 523.7,1649.7 530.6,1648.9 537.6,1648.2 544.7,1647.5 551.7,1646.7 558.9,1646 566.1,1645.3 573.4,1644.7 580.7,1644 588.1,1643.4 595.6,1642.7 603.1,1642.1 610.7,1641.5 618.3,1640.9 626,1640.3 633.8,1639.8 641.6,1639.2 649.5,1638.6 657.4,1638.1 665.4,1637.6 673.5,1637 681.6,1636.5 689.8,1636 698,1635.5 706.4,1635.1 714.7,1634.6 723.1,1634.1 731.6,1633.7 740.2,1633.2 748.8,1632.8 757.4,1632.3 766.2,1631.9 775,1631.5 783.8,1631.1 792.7,1630.7 801.7,1630.3 810.7,1629.9 819.8,1629.5 828.9,1629.2 838.2,1628.8 847.4,1628.4 856.8,1628.1 866.2,1627.7 875.6,1627.4 885.1,1627 894.7,1626.7 904.3,1626.4" fill="none" stroke="#4A4AFF" stroke-width="1.7" stroke-linejoin="round"/>
<polyline points="131.3,1946.3 131.3,1946.2 131.4,1945.8 131.6,1945.3 131.8,1944.5 132.1,1943.4 132.4,1942.2 132.8,1940.8 133.2,1939.2 133.7,1937.4 134.3,1935.5 135,1933.4 135.6,1931.2 136.4,1928.8 137.2,1926.4 138.1,1923.9 139,1921.3 140,1918.6 141.1,1915.9 142.2,1913.1 143.4,1910.3 144.6,1907.6 145.9,1904.8 147.3,1902 148.7,1899.2 150.2,1896.5 151.7,1893.7 153.3,1891.1 155,1888.4 156.7,1885.8 158.5,1883.2 160.3,1880.7 162.2,1878.3 164.2,1875.9 166.2,1873.5 168.3,1871.2 170.4,1869 172.6,1866.8 174.9,1864.7 177.2,1862.6 179.6,1860.6 182.1,1858.7 184.6,1856.8 187.1,1854.9 189.8,1853.1 192.4,1851.4 195.2,1849.7 198,1848.1 200.9,1846.5 203.8,1845 206.8,1843.5 209.8,1842.1 213,1840.7 216.1,1839.4 219.4,1838.1 222.6,1836.8 226,1835.6 229.4,1834.4 232.9,1833.3 236.4,1832.2 240,1831.1 243.7,1830 247.4,1829 251.1,1828 255,1827.1 258.9,1826.2 262.8,1825.3 266.8,1824.4 270.9,1823.6 275.1,1822.8 279.3,1822 283.5,1821.2 287.8,1820.5 292.2,1819.8 296.7,1819.1 301.2,1818.4 305.7,1817.7 310.3,1817.1 315,1816.5 319.8,1815.9 324.6,1815.3 329.4,1814.7 334.3,1814.2 339.3,1813.6 344.4,1813.1 349.5,1812.6 354.6,1812.1 359.9,1811.6 365.1,1811.1 370.5,1810.7 375.9,1810.2 381.4,1809.8 386.9,1809.4 392.5,1809 398.1,1808.6 403.8,1808.2 409.6,1807.8 415.4,1807.5 421.3,1807.1 427.3,1806.7 433.3,1806.4 439.3,1806.1 445.5,1805.7 451.6,1805.4 457.9,1805.1 464.2,1804.8 470.6,1804.5 477,1804.2 483.5,1804 490.1,1803.7 496.7,1803.4 503.3,1803.2 510.1,1802.9 516.9,1802.6 523.7,1802.4 530.6,1802.2 537.6,1801.9 544.7,1801.7 551.7,1801.5 558.9,1801.3 566.1,1801.1 573.4,1800.8 580.7,1800.6 588.1,1800.4 595.6,1800.2 603.1,1800.1 610.7,1799.9 618.3,1799.7 626,1799.5 633.8,1799.3 641.6,1799.2 649.5,1799 657.4,1798.8 665.4,1798.7 673.5,1798.5 681.6,1798.4 689.8,1798.2 698,1798.1 706.4,1797.9 714.7,1797.8 723.1,1797.6 731.6,1797.5 740.2,1797.4 748.8,1797.2 757.4,1797.1 766.2,1797 775,1796.8 783.8,1796.7 792.7,1796.6 801.7,1796.5 810.7,1796.4 819.8,1796.3 828.9,1796.1 838.2,1796 847.4,1795.9 856.8,1795.8 866.2,1795.7 875.6,1795.6 885.1,1795.5 894.7,1795.4 904.3,1795.3" fill="none" stroke="#86D27E" stroke-width="1.7" stroke-linejoin="round"/>
<path d="M187.1 1835.7L199.5 1846.5M187.1 1846.5L199.5 1835.7M187.1 1840.1L199.5 1850.9M187.1 1850.9L199.5 1840.1M187.1 1854.6L199.5 1865.4M187.1 1865.4L199.5 1854.6M249.2 1815.6L261.6 1826.4M249.2 1826.4L261.6 1815.6M249.2 1818.8L261.6 1829.6M249.2 1829.6L261.6 1818.8M249.2 1841.3L261.6 1852.1M249.2 1852.1L261.6 1841.3M373.3 1803.8L385.7 1814.6M373.3 1814.6L385.7 1803.8M373.3 1813.5L385.7 1824.3M373.3 1824.3L385.7 1813.5M373.3 1818.8L385.7 1829.6M373.3 1829.6L385.7 1818.8M435.3 1785.8L447.7 1796.6M435.3 1796.6L447.7 1785.8M435.3 1792.9L447.7 1803.7M435.3 1803.7L447.7 1792.9M435.3 1817.8L447.7 1828.6M435.3 1828.6L447.7 1817.8M534.6 1783.9L547 1794.7M534.6 1794.7L547 1783.9M534.6 1789.6L547 1800.4M534.6 1800.4L547 1789.6M534.6 1809.6L547 1820.4M534.6 1820.4L547 1809.6M621.4 1793.9L633.8 1804.7M621.4 1804.7L633.8 1793.9M621.4 1802.3L633.8 1813.1M621.4 1813.1L633.8 1802.3M621.4 1807.5L633.8 1818.3M621.4 1818.3L633.8 1807.5M745.5 1766.8L757.9 1777.6M745.5 1777.6L757.9 1766.8M745.5 1788.6L757.9 1799.4M745.5 1799.4L757.9 1788.6M745.5 1810.1L757.9 1820.9M745.5 1820.9L757.9 1810.1M900.6 1758.2L913 1769M900.6 1769L913 1758.2M900.6 1789.9L913 1800.7M900.6 1800.7L913 1789.9M900.6 1809.4L913 1820.2M900.6 1820.2L913 1809.4" fill="none" stroke="#74CC62" stroke-width="3.0"/>
<path d="M187.1 1731.9L199.5 1742.7M187.1 1742.7L199.5 1731.9M187.1 1783.2L199.5 1794M187.1 1794L199.5 1783.2M187.1 1783.5L199.5 1794.3M187.1 1794.3L199.5 1783.5M249.2 1697L261.6 1707.8M249.2 1707.8L261.6 1697M249.2 1714.1L261.6 1724.9M249.2 1724.9L261.6 1714.1M249.2 1736.4L261.6 1747.2M249.2 1747.2L261.6 1736.4M373.3 1651.1L385.7 1661.9M373.3 1661.9L385.7 1651.1M373.3 1684.7L385.7 1695.5M373.3 1695.5L385.7 1684.7M373.3 1700.4L385.7 1711.2M373.3 1711.2L385.7 1700.4M435.3 1634L447.7 1644.8M435.3 1644.8L447.7 1634M435.3 1665.2L447.7 1676M435.3 1676L447.7 1665.2M435.3 1670.4L447.7 1681.2M435.3 1681.2L447.7 1670.4M534.6 1602L547 1612.8M534.6 1612.8L547 1602M534.6 1636.9L547 1647.7M534.6 1647.7L547 1636.9M534.6 1667.1L547 1677.9M534.6 1677.9L547 1667.1M621.4 1633.5L633.8 1644.3M621.4 1644.3L633.8 1633.5M621.4 1641.3L633.8 1652.1M621.4 1652.1L633.8 1641.3M621.4 1657.6L633.8 1668.4M621.4 1668.4L633.8 1657.6M745.5 1601.2L757.9 1612M745.5 1612L757.9 1601.2M745.5 1636.9L757.9 1647.7M745.5 1647.7L757.9 1636.9M745.5 1671L757.9 1681.8M745.5 1681.8L757.9 1671M900.6 1570.4L913 1581.2M900.6 1581.2L913 1570.4M900.6 1598.8L913 1609.6M900.6 1609.6L913 1598.8M900.6 1616.4L913 1627.2M900.6 1627.2L913 1616.4" fill="none" stroke="#1A10D8" stroke-width="3.0"/>
<path d="M187.1 1645.8L199.5 1656.6M187.1 1656.6L199.5 1645.8M187.1 1693.1L199.5 1703.9M187.1 1703.9L199.5 1693.1M187.1 1702.8L199.5 1713.6M187.1 1713.6L199.5 1702.8M249.2 1570.8L261.6 1581.6M249.2 1581.6L261.6 1570.8M249.2 1580L261.6 1590.8M249.2 1590.8L261.6 1580M249.2 1609.7L261.6 1620.5M249.2 1620.5L261.6 1609.7M373.3 1543.3L385.7 1554.1M373.3 1554.1L385.7 1543.3M373.3 1546.9L385.7 1557.7M373.3 1557.7L385.7 1546.9M373.3 1573.4L385.7 1584.2M373.3 1584.2L385.7 1573.4M435.3 1531.4L447.7 1542.2M435.3 1542.2L447.7 1531.4M435.3 1538L447.7 1548.8M435.3 1548.8L447.7 1538M435.3 1558.5L447.7 1569.3M435.3 1569.3L447.7 1558.5M534.6 1536.8L547 1547.6M534.6 1547.6L547 1536.8M534.6 1559.9L547 1570.7M534.6 1570.7L547 1559.9M534.6 1591.4L547 1602.2M534.6 1602.2L547 1591.4M621.4 1510L633.8 1520.8M621.4 1520.8L633.8 1510M621.4 1517.9L633.8 1528.7M621.4 1528.7L633.8 1517.9M621.4 1525.3L633.8 1536.1M621.4 1536.1L633.8 1525.3M745.5 1460L757.9 1470.8M745.5 1470.8L757.9 1460M745.5 1471.6L757.9 1482.4M745.5 1482.4L757.9 1471.6M745.5 1490.3L757.9 1501.1M745.5 1501.1L757.9 1490.3M900.6 1481.2L913 1492M900.6 1492L913 1481.2M900.6 1510.6L913 1521.4M900.6 1521.4L913 1510.6M900.6 1532.4L913 1543.2M900.6 1543.2L913 1532.4" fill="none" stroke="#F0901E" stroke-width="3.0"/>
<path d="M187.1 1583.4L199.5 1594.2M187.1 1594.2L199.5 1583.4M187.1 1624.8L199.5 1635.6M187.1 1635.6L199.5 1624.8M187.1 1628.7L199.5 1639.5M187.1 1639.5L199.5 1628.7M249.2 1516.5L261.6 1527.3M249.2 1527.3L261.6 1516.5M249.2 1555.6L261.6 1566.4M249.2 1566.4L261.6 1555.6M249.2 1559L261.6 1569.8M249.2 1569.8L261.6 1559M373.3 1484.2L385.7 1495M373.3 1495L385.7 1484.2M373.3 1493.4L385.7 1504.2M373.3 1504.2L385.7 1493.4M373.3 1580.1L385.7 1590.9M373.3 1590.9L385.7 1580.1M435.3 1485.5L447.7 1496.3M435.3 1496.3L447.7 1485.5M435.3 1503.9L447.7 1514.7M435.3 1514.7L447.7 1503.9M435.3 1538L447.7 1548.8M435.3 1548.8L447.7 1538M534.6 1457.5L547 1468.3M534.6 1468.3L547 1457.5M534.6 1473.3L547 1484.1M534.6 1484.1L547 1473.3M534.6 1493.5L547 1504.3M534.6 1504.3L547 1493.5M621.4 1426.8L633.8 1437.6M621.4 1437.6L633.8 1426.8M621.4 1460.9L633.8 1471.7M621.4 1471.7L633.8 1460.9M621.4 1484.3L633.8 1495.1M621.4 1495.1L633.8 1484.3M745.5 1402.4L757.9 1413.2M745.5 1413.2L757.9 1402.4M745.5 1406.3L757.9 1417.1M745.5 1417.1L757.9 1406.3M745.5 1473.8L757.9 1484.6M745.5 1484.6L757.9 1473.8M900.6 1392.7L913 1403.5M900.6 1403.5L913 1392.7M900.6 1408.4L913 1419.2M900.6 1419.2L913 1408.4M900.6 1464.1L913 1474.9M900.6 1474.9L913 1464.1" fill="none" stroke="#C3C3C3" stroke-width="3.0"/>
<line x1="214.8" y1="1395.6" x2="267.6" y2="1395.6" stroke="#F0A04A" stroke-width="1.9"/>
<text transform="translate(280.28 1404.2) scale(1.0289 1.05)" font-size="22.5" fill="#1a1a1a" stroke="#1a1a1a" stroke-width="0.45">Ethanol</text>
<line x1="214.8" y1="1426.6" x2="268.5" y2="1426.6" stroke="#4A4AFF" stroke-width="1.9"/>
<text transform="translate(281.49 1435.2) scale(1.0109 1.05)" font-size="22.5" fill="#3A3AF5" stroke="#3A3AF5" stroke-width="0.45">Glycerol</text>
<line x1="214.8" y1="1456.8" x2="267.6" y2="1456.8" stroke="#86D27E" stroke-width="1.9"/>
<text transform="translate(280.32 1465.4) scale(1.0012 1.05)" font-size="22.5" fill="#1a1a1a" stroke="#1a1a1a" stroke-width="0.45">DMSO</text>
<line x1="401.8" y1="1395.6" x2="453.8" y2="1395.6" stroke="#C6C6C6" stroke-width="1.9"/>
<text transform="translate(466.49 1404.2) scale(1.0104 1.05)" font-size="22.5" fill="#1a1a1a" stroke="#1a1a1a" stroke-width="0.45">2M</text>
<text transform="translate(503.34 1404.2) scale(1.054 1.05)" font-size="22.5" fill="#1a1a1a" stroke="#1a1a1a" stroke-width="0.45">NaCl</text>
</g>
</svg>
</body></html>
